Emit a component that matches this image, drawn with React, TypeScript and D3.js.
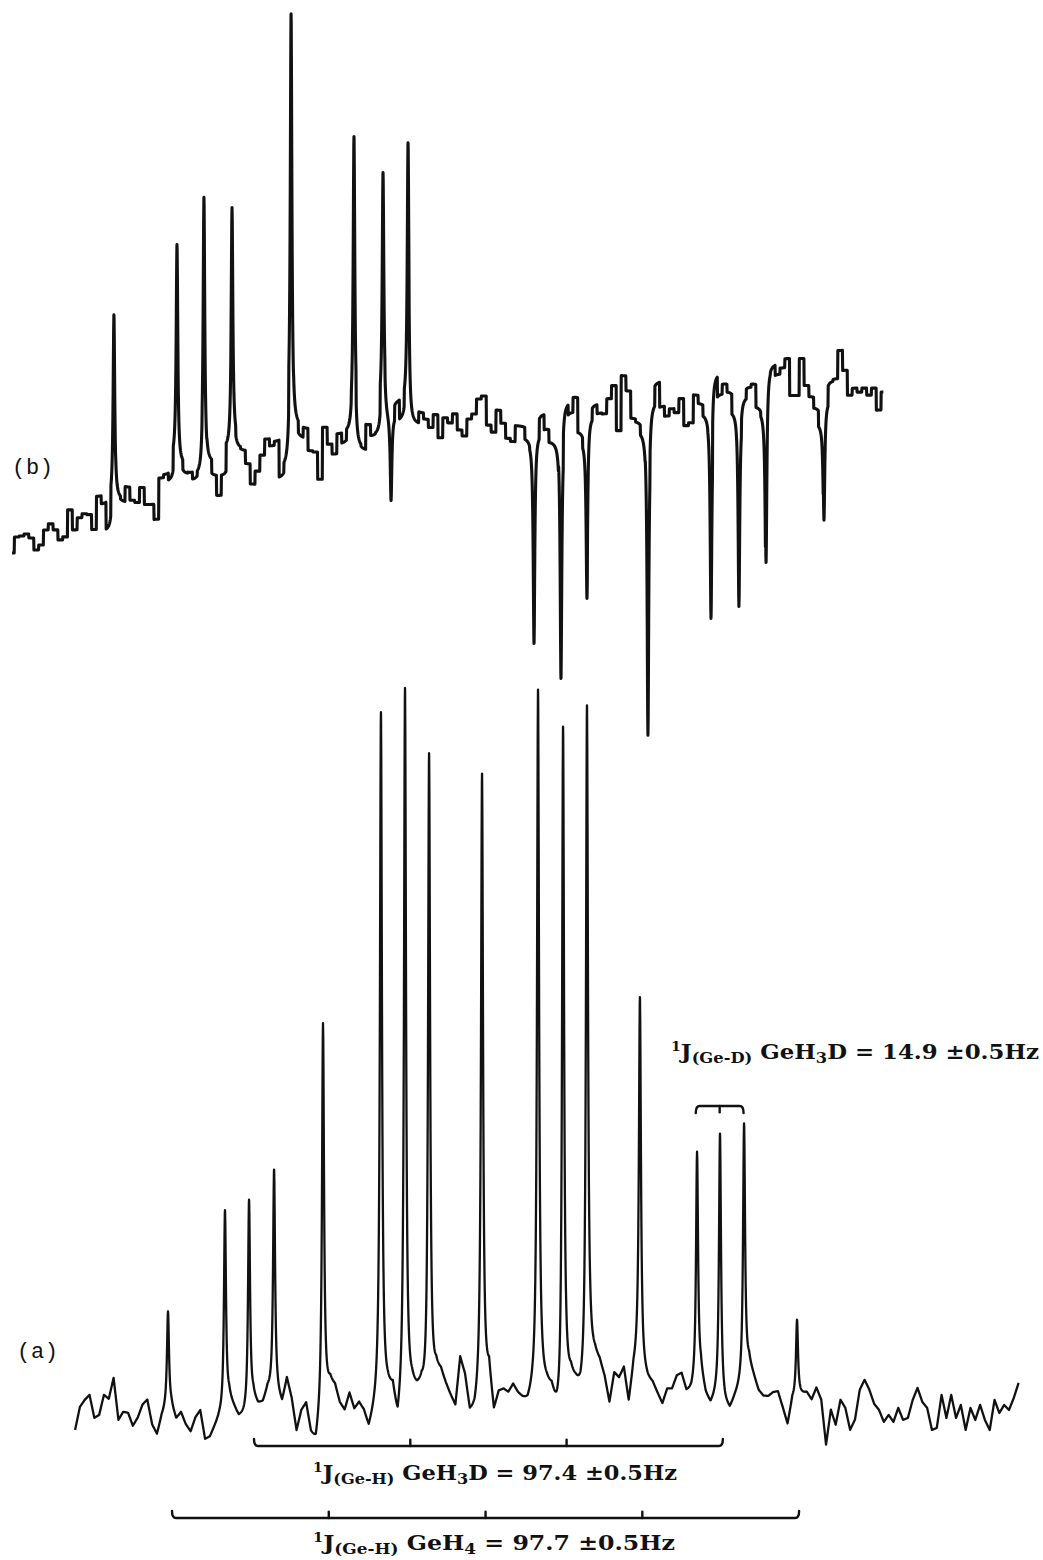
import React from 'react';
import * as d3 from 'd3';

const W = 1043;
const H = 1560;

// frequency axis (Hz, arbitrary origin) and intensity (arbitrary units)
const HZ_DOMAIN = [0, 650];
const STEP_HZ = 3;

// ---- trace (a): baseline noise sampled every 3 Hz from 46.8 Hz ----
const START_A_HZ = 46.8;
const noiseA = [
  -4.0, 0.6, 2.0, 3.0, -1.6, -1.0, 3.0, 2.2, 6.4, -2.0,
  -0.4, -0.6, -3.2, -1.6, 1.0, 2.0, -3.0, -5.0, -1.4, 0.4,
  0.6, -2.0, -0.6, -3.0, -4.4, -1.6, -0.2, -6.0, -5.6, -3.6,
  -1.8, -1.0, 2.0, 0.2, -1.8, -1.6, -1.0, 2.0, 0.6, 1.0,
  3.6, 3.0, 2.6, 1.0, 6.0, 2.0, -4.4, -0.4, 1.0, -5.0,
  -7.0, -2.0, 2.0, 5.0, 4.4, 1.0, -0.4, 3.0, -0.2, 1.0,
  -0.8, -4.4, -1.6, 1.0, 2.0, 3.0, 3.0, -4.0, 0.0, 2.0,
  3.6, 3.0, 3.6, 0.4, 3.0, 7.0, 7.0, 4.6, 2.4, 0.4,
  10.0, 6.4, -1.0, -1.0, 2.0, 3.0, 7.0, -1.0, 3.0, 3.6,
  3.0, 4.6, 2.8, 1.6, 0.8, 2.4, 3.0, 4.0, 4.0, 3.0,
  -1.6, -5.0, 3.0, 5.6, 4.4, 2.4, 3.0, 9.0, 10.0, 9.0,
  6.0, 1.0, 7.0, 6.0, 8.0, 1.0, 7.6, 10.0, 7.0, 5.6,
  5.0, 3.0, 1.0, 4.0, 4.0, 6.6, 7.0, 3.4, 3.4, 5.0,
  7.0, 2.6, 0.6, 2.0, 3.0, 0.6, -0.4, 2.0, 4.0, 6.0,
  9.0, 6.4, 3.6, 2.6, 2.6, 3.4, 3.6, 0.4, -3.0, 2.0,
  2.6, 3.0, 3.4, 2.0, 4.4, 2.0, -7.0, 0.0, -3.0, 2.0,
  0.4, -4.0, -2.0, 4.0, 6.0, 4.0, 1.2, 0.0, -2.4, -1.0,
  -2.4, 0.4, -2.0, -1.6, 2.0, 4.4, 1.6, 0.4, -4.0, -3.6,
  3.0, -1.6, 3.0, -1.6, 1.0, -4.0, 0.4, -2.0, 1.0, -2.0,
  -4.0, 2.0, -0.6, 1.0, 0.0, 2.4, 5.4,
];
const peaksAHz = [104.7, 140.2, 155.2, 170.8, 201.3, 237.4, 252.4, 267.4, 300.4, 335.3, 350.9, 365.8, 398.8, 434.4, 448.7, 463.7, 496.7];
const peaksAHeight = [19.2, 40.4, 42.4, 45, 77.2, 137.5, 142.6, 129, 124.5, 140.4, 138, 135.4, 73.4, 46, 52, 51.2, 15.4];
const WIDTH_A_HZ = 0.75;

// ---- trace (b): baseline (with drift) sampled every 3 Hz from 7.5 Hz ----
const START_B_HZ = 7.5;
const noiseB = [
  1.4, 4.6, 4.8, 5.2, 4.4, 2.0, 3.0, 6.0, 7.2, 6.0,
  4.0, 4.6, 10.0, 6.0, 8.4, 9.2, 9.0, 6.0, 12.6, 11.0,
  5.6, 11.4, 12.0, 11.4, 14.4, 11.8, 11.4, 14.4, 11.0, 11.0,
  8.0, 16.2, 16.8, 15.4, 20.0, 18.8, 16.8, 17.0, 15.6, 16.6,
  18.4, 19.2, 16.4, 12.4, 16.4, 22.0, 23.8, 22.0, 21.6, 19.0,
  15.0, 17.6, 20.8, 24.0, 22.6, 23.4, 16.0, 18.0, 25.6, 26.4,
  24.0, 26.0, 21.6, 21.4, 16.0, 26.4, 23.0, 21.0, 25.0, 23.0,
  25.2, 27.0, 22.0, 21.6, 26.6, 24.4, 24.6, 30.0, 28.0, 28.4,
  31.4, 27.6, 31.0, 27.0, 27.0, 29.2, 28.0, 26.4, 29.0, 24.4,
  28.4, 27.4, 29.2, 26.0, 24.8, 28.2, 29.2, 32.2, 32.8, 27.0,
  25.6, 30.0, 27.4, 24.4, 23.8, 27.0, 27.0, 24.6, 24.0, 25.6,
  29.6, 26.6, 24.0, 24.0, 26.0, 32.0, 30.0, 33.0, 26.0, 24.0,
  29.0, 31.4, 29.6, 29.4, 32.4, 35.0, 26.0, 37.0, 34.0, 28.6,
  28.0, 26.0, 27.0, 32.0, 36.0, 31.0, 29.0, 30.4, 29.6, 32.4,
  27.0, 27.6, 33.2, 31.6, 29.4, 29.0, 37.6, 33.6, 35.6, 34.0,
  30.0, 30.0, 33.0, 35.0, 35.6, 31.0, 30.0, 39.0, 39.4, 37.4,
  38.6, 40.4, 33.0, 33.0, 40.4, 35.0, 32.8, 30.6, 27.4, 32.0,
  36.0, 36.4, 42.0, 38.0, 33.0, 34.4, 33.6, 34.4, 33.0, 34.4,
  30.0, 33.6,
];
const peaksBHz = [71.0, 110.3, 127.1, 144.6, 181.4, 220.6, 238.7, 254.3, 243.7, 332.8, 349.6, 365.8, 403.8, 443.1, 460.5, 477.4, 513.5];
const peaksBHeight = [37.6, 43, 54, 46.6, 83.6, 57.6, 47.6, 52.4, -17.4, -40.6, -49.6, -31.6, -62, -40.6, -39.2, -39.4, -24];
const WIDTH_B_HZ = 0.6;

// ---- coupling constants and bracket origins (Hz) ----
const J_GEH_GEH3D = 97.4;
const J_GEH_GEH4 = 97.7;
const J_GED_GEH3D = 14.9;
const BRACKET_GEH3D_START = 158.3;
const BRACKET_GEH4_START = 107.2;
const BRACKET_GED_START = 433.6;

const labels = ['(a)', '(b)'];

const x = d3.scaleLinear().domain(HZ_DOMAIN).range([0, W]);
const yA = d3.scaleLinear().domain([0, 140]).range([1410, 710]);
const yB = d3.scaleLinear().domain([0, 100]).range([560, 60]);

function buildTrace(start: number, noise: number[], pHz: number[], pH: number[], g: number, stepped: boolean) {
  const end = start + (noise.length - 1) * STEP_HZ;
  const xs: number[] = [];
  for (let f = start; f <= end + 1e-9; f += 0.15) xs.push(f);
  pHz.forEach((p) => xs.push(p));
  xs.sort((a, b) => a - b);
  return xs.map((f) => {
    const t = (f - start) / STEP_HZ;
    let v: number;
    if (stepped) {
      const i = Math.max(0, Math.min(noise.length - 1, Math.round(t)));
      v = noise[i];
    } else {
      const i0 = Math.max(0, Math.min(noise.length - 2, Math.floor(t)));
      const u = t - i0;
      v = noise[i0] * (1 - u) + noise[i0 + 1] * u;
    }
    for (let k = 0; k < pHz.length; k++) {
      const d = f - pHz[k];
      v += (pH[k] * g * g) / (g * g + d * d);
    }
    return [f, v] as [number, number];
  });
}

function Bracket({ start, j, n, y, up }: { start: number; j: number; n: number; y: number; up: boolean }) {
  const xs = d3.range(n).map((k) => x(start + k * j));
  const t = up ? -7 : 7;
  const x0 = xs[0];
  const x1 = xs[xs.length - 1];
  return (
    <g stroke="#111" strokeWidth={2.4} fill="none" strokeLinecap="round">
      <path d={`M${x0},${y + t} Q${x0},${y} ${x0 + 4},${y} L${x1 - 4},${y} Q${x1},${y} ${x1},${y + t}`} />
      {xs.slice(1, -1).map((xx, i) => (
        <line key={i} x1={xx} x2={xx} y1={y} y2={y + t * 0.9} />
      ))}
    </g>
  );
}

function JLabel({ xPos, yPos, len, sub, mol, molSub, value }: { xPos: number; yPos: number; len: number; sub: string; mol: string; molSub: string; value: string }) {
  return (
    <text x={xPos} y={yPos} fontFamily="'DejaVu Serif', 'Liberation Serif', serif" fontWeight="bold" fontSize={21} fill="#111" textLength={len} lengthAdjust="spacingAndGlyphs">
      <tspan fontSize={13} dy={-8}>1</tspan>
      <tspan dy={8}>J</tspan>
      <tspan fontSize={15} dy={4}>{sub}</tspan>
      <tspan dy={-4}>{' ' + mol}</tspan>
      <tspan fontSize={15} dy={4}>{molSub}</tspan>
      <tspan dy={-4}>{value}</tspan>
    </text>
  );
}

export default function App() {
  const traceA = buildTrace(START_A_HZ, noiseA, peaksAHz, peaksAHeight, WIDTH_A_HZ, false);
  const traceB = buildTrace(START_B_HZ, noiseB, peaksBHz, peaksBHeight, WIDTH_B_HZ, true);
  const lineA = d3.line<[number, number]>().x((d) => x(d[0])).y((d) => yA(d[1]));
  const lineB = d3.line<[number, number]>().x((d) => x(d[0])).y((d) => yB(d[1]));

  return (
    <svg width={W} height={H} style={{ position: 'absolute', left: 0, top: 0, background: '#fff' }}>
      <rect x={0} y={0} width={W} height={H} fill="#fff" />
      <path d={lineB(traceB) || ''} fill="none" stroke="#111" strokeWidth={3.1} strokeLinejoin="round" />
      <path d={lineA(traceA) || ''} fill="none" stroke="#111" strokeWidth={2.3} strokeLinejoin="round" />

      <text x={17} y={1358} fontFamily="'Liberation Mono', 'DejaVu Sans Mono', monospace" fontSize={22} fill="#111" textLength={41}>{labels[0]}</text>
      <text x={12} y={474} fontFamily="'Liberation Mono', 'DejaVu Sans Mono', monospace" fontSize={22} fill="#111" textLength={41}>{labels[1]}</text>

      <Bracket start={BRACKET_GED_START} j={J_GED_GEH3D} n={3} y={1106} up={false} />
      <Bracket start={BRACKET_GEH3D_START} j={J_GEH_GEH3D} n={4} y={1446} up={true} />
      <Bracket start={BRACKET_GEH4_START} j={J_GEH_GEH4} n={5} y={1518} up={true} />

      <JLabel xPos={671} yPos={1059} len={368} sub="(Ge-D)" mol="GeH" molSub="3" value={`D = ${J_GED_GEH3D} ±0.5Hz`} />
      <JLabel xPos={313} yPos={1480} len={364} sub="(Ge-H)" mol="GeH" molSub="3" value={`D = ${J_GEH_GEH3D} ±0.5Hz`} />
      <JLabel xPos={313} yPos={1550} len={362} sub="(Ge-H)" mol="GeH" molSub="4" value={`  = ${J_GEH_GEH4} ±0.5Hz`} />
    </svg>
  );
}
